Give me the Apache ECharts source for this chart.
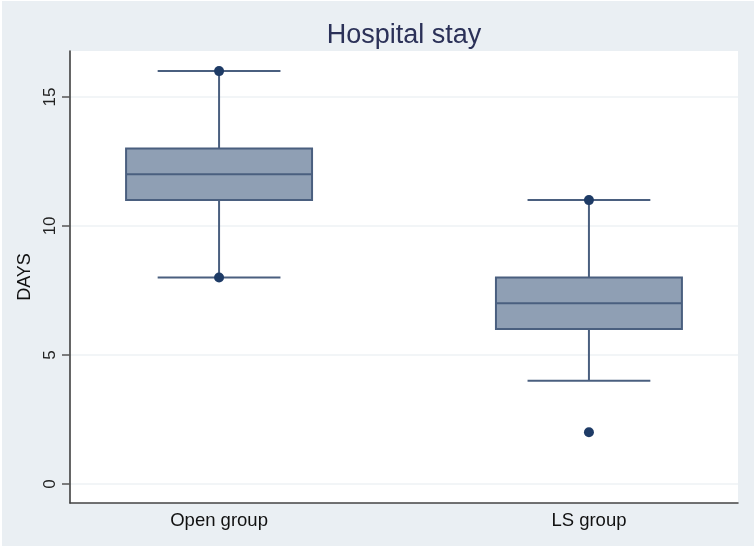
<!DOCTYPE html>
<html>
<head>
<meta charset="utf-8">
<script src="https://cdn.jsdelivr.net/npm/echarts@6/dist/echarts.min.js"></script>
<style>
  html, body { margin: 0; padding: 0; background: #fff; }
  #main { position: absolute; left: 2px; top: 1px; width: 752px; height: 545px; }
</style>
</head>
<body>
<div id="main"></div>
<script>
// groups and their box summaries: [low whisker, q1, median, q3, high whisker]
var groups = ['Open group', 'LS group'];
var openBox = [8, 11, 12, 13, 16];
var lsBox = [4, 6, 7, 8, 11];
// points marked with dots
var openDots = [16, 8];
var lsDots = [11, 2];
var yTicks = [0, 5, 10, 15];

var boxData = [[1].concat(openBox), [2].concat(lsBox)];
var dotData = [];
openDots.forEach(function (v) { dotData.push([1, v]); });
lsDots.forEach(function (v) { dotData.push([2, v]); });

var lineColor = '#4a5f7f';
var font = 'Liberation Sans, Arial, Helvetica, sans-serif';

function renderBox(params, api) {
    var x = api.value(0);
    var halfBox = 0.2514, halfCap = 0.166;
    var pLow = api.coord([x, api.value(1)]);
    var pQ1 = api.coord([x, api.value(2)]);
    var pMed = api.coord([x, api.value(3)]);
    var pQ3 = api.coord([x, api.value(4)]);
    var pHigh = api.coord([x, api.value(5)]);
    var bw = api.size([halfBox * 2, 0])[0];
    var cw = api.size([halfCap * 2, 0])[0];
    var ls = { stroke: lineColor, lineWidth: 2 };
    return {
        type: 'group',
        children: [
            { type: 'line', shape: { x1: pLow[0], y1: pLow[1], x2: pQ1[0], y2: pQ1[1] }, style: ls },
            { type: 'line', shape: { x1: pQ3[0], y1: pQ3[1], x2: pHigh[0], y2: pHigh[1] }, style: ls },
            { type: 'line', shape: { x1: pLow[0] - cw / 2, y1: pLow[1], x2: pLow[0] + cw / 2, y2: pLow[1] }, style: ls },
            { type: 'line', shape: { x1: pHigh[0] - cw / 2, y1: pHigh[1], x2: pHigh[0] + cw / 2, y2: pHigh[1] }, style: ls },
            { type: 'rect', shape: { x: pQ3[0] - bw / 2, y: pQ3[1], width: bw, height: pQ1[1] - pQ3[1] },
              style: { fill: '#8f9fb4', stroke: lineColor, lineWidth: 2 } },
            { type: 'line', shape: { x1: pMed[0] - bw / 2, y1: pMed[1], x2: pMed[0] + bw / 2, y2: pMed[1] }, style: ls }
        ]
    };
}

var chart = echarts.init(document.getElementById('main'));
chart.setOption({
    backgroundColor: '#eaeff3',
    animation: false,
    title: {
        text: 'Hospital stay',
        left: 397,
        top: 16,
        textAlign: 'center',
        textStyle: { fontFamily: font, fontSize: 27, fontWeight: 'normal', color: '#2b3158' }
    },
    grid: {
        left: 68, right: 16, top: 50, bottom: 43,
        show: true, backgroundColor: '#ffffff', borderWidth: 0
    },
    xAxis: {
        type: 'value',
        min: 0.597,
        max: 2.403,
        axisLine: { show: true, onZero: false, lineStyle: { color: '#444', width: 1.5 } },
        axisTick: { show: false },
        splitLine: { show: false },
        axisLabel: {
            customValues: [1, 2],
            margin: 8,
            fontFamily: font,
            fontSize: 18.5,
            color: '#111',
            formatter: function (v) { return groups[Math.round(v) - 1]; }
        }
    },
    yAxis: {
        type: 'value',
        min: -0.74,
        max: 16.78,
        name: 'DAYS',
        nameLocation: 'middle',
        nameRotate: 90,
        nameGap: 31,
        nameTextStyle: { fontFamily: font, fontSize: 18, color: '#111' },
        axisLine: { show: true, lineStyle: { color: '#333', width: 1.5 } },
        axisTick: { show: true, customValues: yTicks, length: 8, lineStyle: { color: '#555', width: 1.5 } },
        axisLabel: {
            customValues: yTicks,
            rotate: 90,
            margin: 11,
            fontFamily: font,
            fontSize: 17,
            color: '#222'
        },
        splitLine: { show: true, lineStyle: { color: '#eef2f5', width: 1.5 } }
    },
    series: [
        {
            type: 'custom',
            renderItem: renderBox,
            encode: { x: 0, y: [1, 2, 3, 4, 5] },
            data: boxData,
            z: 2
        },
        {
            type: 'scatter',
            data: dotData,
            symbolSize: 10,
            itemStyle: { color: '#1e3b66', opacity: 1 },
            z: 3
        }
    ]
});
</script>
</body>
</html>
